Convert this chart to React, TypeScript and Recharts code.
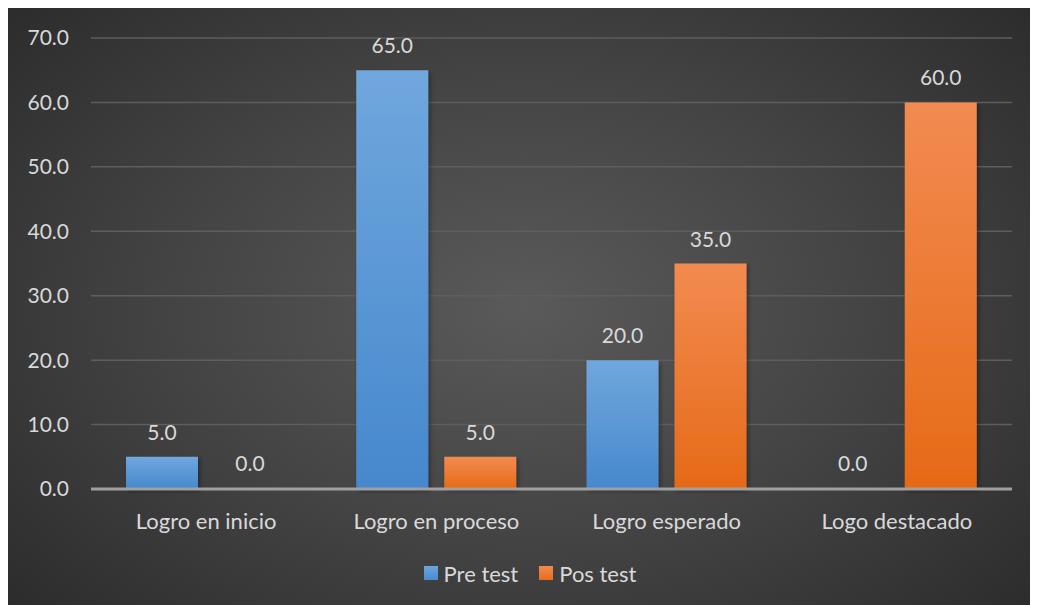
import React from "react";
import { BarChart, Bar, XAxis, YAxis, CartesianGrid, LabelList, Legend, Cell } from "recharts";

const categories = ["Logro en inicio", "Logro en proceso", "Logro esperado", "Logo destacado"];
const preTest = [5.0, 65.0, 20.0, 0.0];
const posTest = [0.0, 5.0, 35.0, 60.0];
const yTicks = [0, 10, 20, 30, 40, 50, 60, 70];

const data = categories.map((c, i) => ({ name: c, pre: preTest[i], pos: posTest[i] }));

const FONT = "Lato, 'Open Sans', sans-serif";
const FS = 21;
const TXT = "#d9d9d9";

const LegendContent = () => (
  <div style={{ display: "flex", justifyContent: "center", alignItems: "center", fontFamily: FONT, fontSize: 22, color: TXT, height: 50, paddingLeft: 40 }}>
    <span style={{ display: "inline-block", width: 14, height: 14, background: "linear-gradient(#6ea6dd,#4a8ad0)", marginRight: 6 }} />
    <span style={{ marginRight: 21 }}>Pre test</span>
    <span style={{ display: "inline-block", width: 14, height: 14, background: "linear-gradient(#f28a4e,#e86d1c)", marginRight: 6 }} />
    <span>Pos test</span>
  </div>
);

const fmt = (v: any) => Number(v).toFixed(1);

export default function App() {
  return (
    <div
      style={{
        width: 1030,
        height: 597,
        background: "radial-gradient(ellipse 75% 85% at 50% 50%, #5a5a5a 0%, #444 45%, #262626 100%)",
        fontFamily: FONT,
      }}
    >
      <BarChart
        width={1030}
        height={597}
        data={data}
        margin={{ top: 30, right: 26, left: 0, bottom: 16 }}
        barCategoryGap={35}
        barGap={16}
      >
        <defs>
          <linearGradient id="gBlue" x1="0" y1="0" x2="0" y2="1">
            <stop offset="0%" stopColor="#70a7dd" />
            <stop offset="100%" stopColor="#4688cd" />
          </linearGradient>
          <linearGradient id="gOrange" x1="0" y1="0" x2="0" y2="1">
            <stop offset="0%" stopColor="#f28b51" />
            <stop offset="100%" stopColor="#e66a17" />
          </linearGradient>
          <filter id="shadow" x="-10%" y="-10%" width="130%" height="130%">
            <feDropShadow dx="2" dy="2" stdDeviation="2" floodColor="#000" floodOpacity="0.35" />
          </filter>
        </defs>
        <CartesianGrid vertical={false} stroke="#5e5e5e" strokeWidth={1.5} />
        <XAxis
          dataKey="name"
          axisLine={{ stroke: "#a0a0a0", strokeWidth: 3 }}
          tickLine={false}
          tick={{ fill: TXT, fontSize: 22, fontFamily: FONT }}
          tickMargin={18}
          height={50}
        />
        <YAxis
          domain={[0, 70]}
          ticks={yTicks}
          width={83}
          axisLine={false}
          tickLine={false}
          tickSize={0}
          tickMargin={22}
          tickFormatter={(v: number) => v.toFixed(1)}
          tick={{ fill: TXT, fontSize: FS, fontFamily: FONT }}
        />
        <Legend verticalAlign="bottom" height={50} content={<LegendContent />} wrapperStyle={{ bottom: 7 }} />
        <Bar dataKey="pre" name="Pre test" fill="url(#gBlue)" barSize={72} minPointSize={1} isAnimationActive={false} filter="url(#shadow)">
          {preTest.map((v, i) => (
            <Cell key={i} fill={v === 0 ? "transparent" : "url(#gBlue)"} />
          ))}
          <LabelList dataKey="pre" position="top" offset={17} fill={TXT} fontSize={FS} fontFamily={FONT} formatter={fmt} />
        </Bar>
        <Bar dataKey="pos" name="Pos test" fill="url(#gOrange)" barSize={72} minPointSize={1} isAnimationActive={false} filter="url(#shadow)">
          {posTest.map((v, i) => (
            <Cell key={i} fill={v === 0 ? "transparent" : "url(#gOrange)"} />
          ))}
          <LabelList dataKey="pos" position="top" offset={17} fill={TXT} fontSize={FS} fontFamily={FONT} formatter={fmt} />
        </Bar>
      </BarChart>
    </div>
  );
}
